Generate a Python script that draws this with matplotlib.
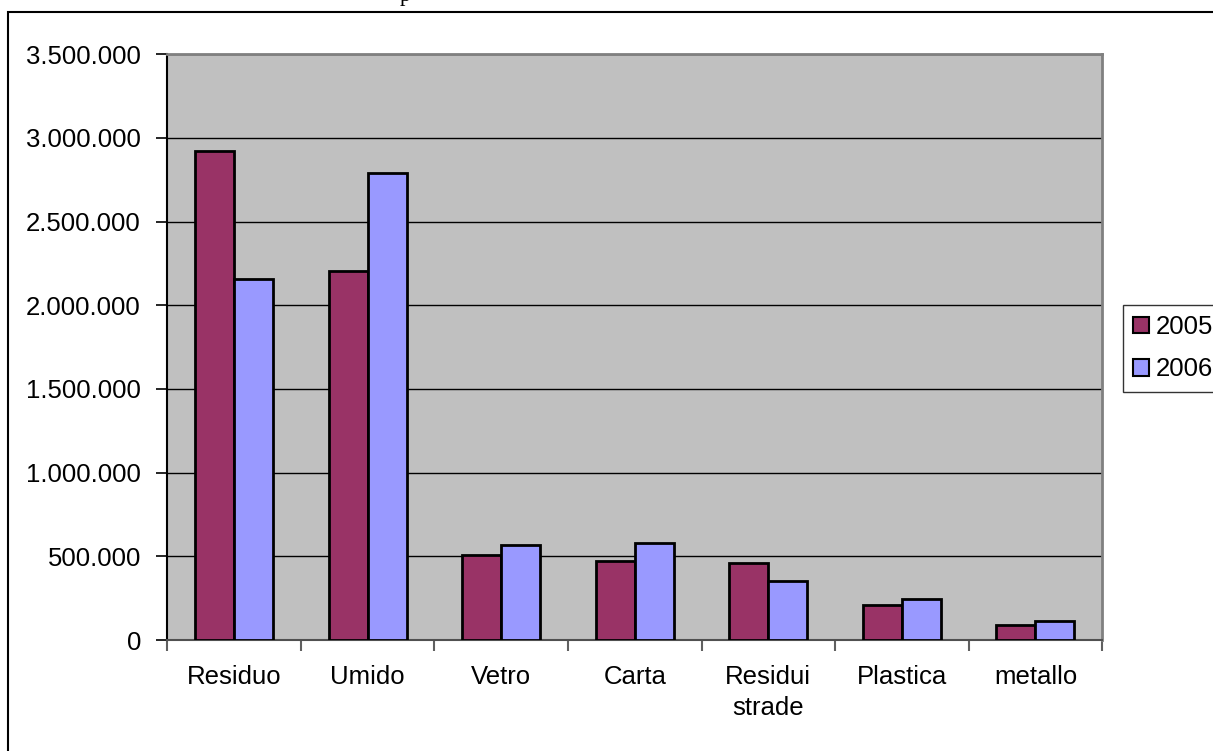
import matplotlib.pyplot as plt
import numpy as np
from matplotlib.patches import Rectangle
from matplotlib.ticker import FuncFormatter, MultipleLocator

plt.rcParams['font.family'] = ['Liberation Sans', 'DejaVu Sans']

categories = ['Residuo', 'Umido', 'Vetro', 'Carta', 'Residui\nstrade', 'Plastica', 'metallo']
years = ['2005', '2006']
values_2005 = [2921000, 2206000, 508000, 474000, 462000, 210000, 90000]
values_2006 = [2158000, 2792000, 569000, 581000, 354000, 246000, 116000]
colors = ['#993366', '#9999FF']

fig = plt.figure(figsize=(12.13, 7.51), dpi=100)
ax = fig.add_axes([0.1379, 0.1478, 0.7708, 0.7799])
ax.set_facecolor('#C0C0C0')

x = np.arange(len(categories))
w = 0.292
for i, (vals, col, lab) in enumerate(zip([values_2005, values_2006], colors, years)):
    ax.bar(x + (i - 0.5) * w, vals, width=w, color=col, edgecolor='black',
           linewidth=2, label=lab, zorder=3)

ax.set_xlim(-0.5, len(categories) - 0.5)
ax.set_ylim(0, 3500000)
ax.yaxis.set_major_locator(MultipleLocator(500000))
ax.yaxis.set_major_formatter(FuncFormatter(lambda v, p: f"{int(v):,}".replace(',', '.')))
ax.grid(axis='y', color='black', linewidth=1, zorder=1)

# category labels centred, ticks on the boundaries
ax.set_xticks(x)
ax.set_xticklabels(categories, fontsize=18.5, linespacing=1.35)
ax.tick_params(axis='x', length=0, pad=18)
ax.set_xticks(np.arange(-0.5, len(categories)), minor=True)
ax.tick_params(axis='x', which='minor', length=8, width=1.5, color='#606060')
ax.tick_params(axis='y', labelsize=18.5, length=8, width=1.2, pad=11)

ax.spines['left'].set_linewidth(1.5)
ax.spines['bottom'].set_color('#505050')
ax.spines['bottom'].set_linewidth(1.5)
for s in ['top', 'right']:
    ax.spines[s].set_color('#808080')
    ax.spines[s].set_linewidth(2)

leg = fig.legend(loc='upper left', bbox_to_anchor=(1123 / 1213, 1 - 304.7 / 751),
                 borderaxespad=0, fontsize=18.5, frameon=True, fancybox=False,
                 edgecolor='black', handlelength=0.62, handleheight=0.62,
                 handletextpad=0.25, labelspacing=0.72, borderpad=0.4)
leg.get_frame().set_linewidth(1)
for h in leg.legend_handles:
    h.set_linewidth(1.5)

# outer chart border (cut at the right and bottom edge)
fig.patches.append(Rectangle((8 / 1213, -0.1), 2, 1 - 12 / 751 + 0.1,
                             transform=fig.transFigure, fill=False,
                             edgecolor='black', linewidth=1.5))
fig.text(400 / 1213, 1 - 1 / 751, 'p', family='Liberation Serif', fontsize=16,
         va='baseline', ha='left')

fig.savefig('out.png', dpi=100)
